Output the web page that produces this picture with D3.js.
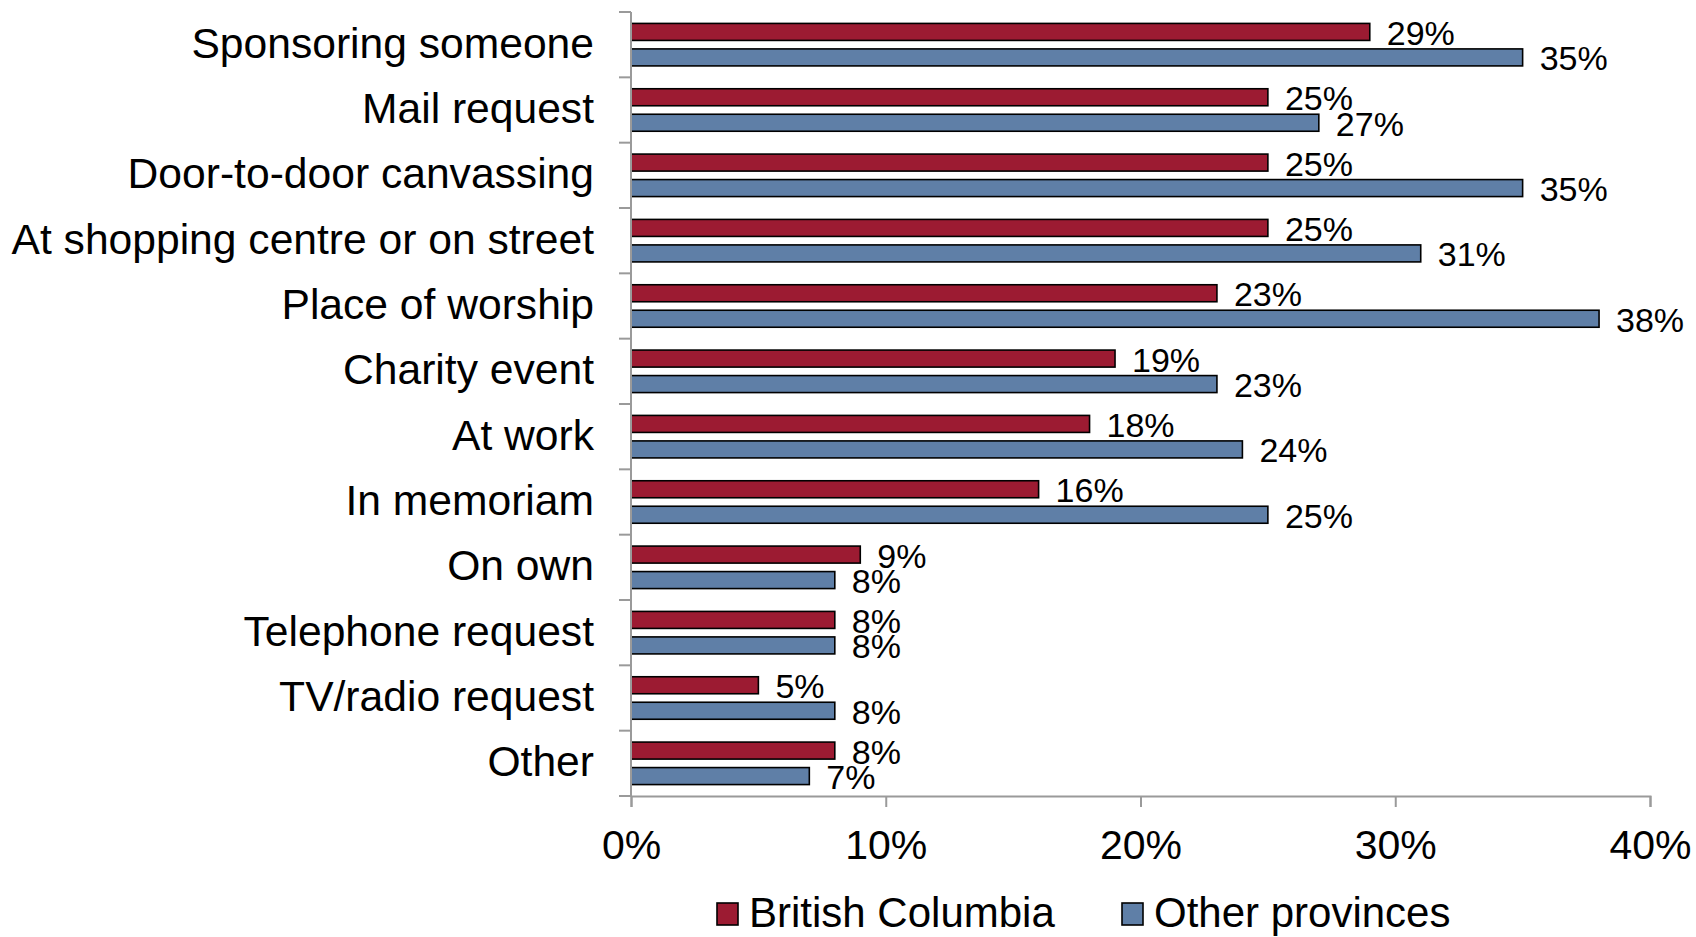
<!DOCTYPE html>
<html>
<head>
<meta charset="utf-8">
<script src="https://cdn.jsdelivr.net/npm/d3@7"></script>
<style>
  html, body { margin: 0; padding: 0; background: #fff; }
  svg { display: block; font-family: "Liberation Sans", Arial, sans-serif; }
</style>
</head>
<body>
<svg id="chart" width="1696" height="937"></svg>
<script>
// Ways of being asked to give, share of donors (%)
const categories = [
  "Sponsoring someone",
  "Mail request",
  "Door-to-door canvassing",
  "At shopping centre or on street",
  "Place of worship",
  "Charity event",
  "At work",
  "In memoriam",
  "On own",
  "Telephone request",
  "TV/radio request",
  "Other"
];
const seriesNames = ["British Columbia", "Other provinces"];
const britishColumbia = [29, 25, 25, 25, 23, 19, 18, 16, 9, 8, 5, 8];
const otherProvinces  = [35, 27, 35, 31, 38, 23, 24, 25, 8, 8, 8, 7];
const xTicks = [0, 10, 20, 30, 40];
const colors = ["#9c1b32", "#5f7fa7"];

const svg = d3.select("#chart");
const plot = { left: 631, right: 1650, top: 12, bottom: 796 };

const x = d3.scaleLinear().domain([0, 40]).range([plot.left, plot.right]);
const y = d3.scaleBand().domain(categories).range([plot.top, plot.bottom]).padding(0);
const ySub = d3.scaleBand().domain(seriesNames).range([0, y.bandwidth()])
  .paddingInner(0.333).paddingOuter(0.448);

const rows = categories.map((c, i) => ({
  category: c,
  values: [
    { series: seriesNames[0], value: britishColumbia[i] },
    { series: seriesNames[1], value: otherProvinces[i] }
  ]
}));

const color = d3.scaleOrdinal().domain(seriesNames).range(colors);

// Bars
const groups = svg.append("g").selectAll("g")
  .data(rows).join("g")
  .attr("transform", d => `translate(0,${y(d.category)})`);

groups.selectAll("rect")
  .data(d => d.values).join("rect")
  .attr("x", x(0))
  .attr("y", d => ySub(d.series))
  .attr("width", d => x(d.value) - x(0))
  .attr("height", ySub.bandwidth())
  .attr("fill", d => color(d.series))
  .attr("stroke", "#000")
  .attr("stroke-width", 1.6);

// Value labels
groups.selectAll("text")
  .data(d => d.values).join("text")
  .attr("x", d => x(d.value) + 17)
  .attr("y", d => ySub(d.series) + ySub.bandwidth() / 2 + 13)
  .attr("font-size", 34)
  .attr("fill", "#000")
  .text(d => d.value + "%");

// Category axis (ticks between categories)
const axisColor = "#9a9a9a";
const yAxis = svg.append("g");
yAxis.append("line")
  .attr("x1", plot.left).attr("x2", plot.left)
  .attr("y1", plot.top).attr("y2", plot.bottom)
  .attr("stroke", axisColor).attr("stroke-width", 2);
const boundaries = categories.map(c => y(c)).concat([plot.bottom]);
yAxis.selectAll("line.tick").data(boundaries).join("line")
  .attr("class", "tick")
  .attr("x1", plot.left - 12).attr("x2", plot.left)
  .attr("y1", d => d).attr("y2", d => d)
  .attr("stroke", axisColor).attr("stroke-width", 2);
yAxis.selectAll("text").data(categories).join("text")
  .attr("x", plot.left - 37)
  .attr("y", d => y(d) + y.bandwidth() / 2 + 13)
  .attr("text-anchor", "end")
  .attr("font-size", 42.6)
  .attr("fill", "#000")
  .text(d => d);

// Value axis
const xAxis = svg.append("g")
  .attr("transform", `translate(0,${plot.bottom})`)
  .call(d3.axisBottom(x).tickValues(xTicks).tickSize(11).tickPadding(0)
    .tickFormat(d => d + "%"));
xAxis.select(".domain").attr("stroke", axisColor).attr("stroke-width", 2);
xAxis.selectAll(".tick line").attr("stroke", axisColor).attr("stroke-width", 2);
xAxis.selectAll(".tick text")
  .attr("font-size", 41)
  .attr("font-family", "'Liberation Sans', Arial, sans-serif")
  .attr("fill", "#000")
  .attr("dy", null)
  .attr("y", 63);

// Legend
const legendItems = [
  { name: seriesNames[0], x: 717 },
  { name: seriesNames[1], x: 1122 }
];
const legend = svg.append("g").selectAll("g")
  .data(legendItems).join("g")
  .attr("transform", d => `translate(${d.x},903)`);
legend.append("rect")
  .attr("width", 21).attr("height", 22)
  .attr("fill", d => color(d.name))
  .attr("stroke", "#000").attr("stroke-width", 1.6);
legend.append("text")
  .attr("x", 32).attr("y", 24)
  .attr("font-size", 42)
  .attr("fill", "#000")
  .text(d => d.name);
</script>
</body>
</html>
